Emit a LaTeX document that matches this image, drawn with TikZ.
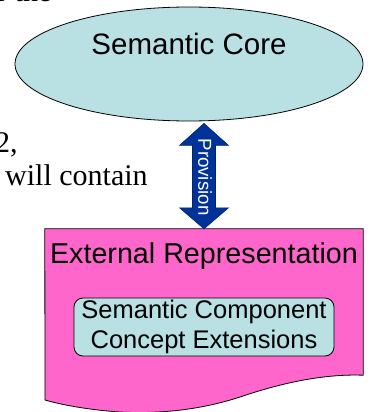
\documentclass[tikz,border=0pt]{standalone}
\usepackage{fontspec}
\setmainfont{Liberation Sans}
\newfontfamily\serifface{Liberation Serif}
\usetikzlibrary{shapes.geometric,calc}
\definecolor{corefill}{HTML}{B9E0E3}
\definecolor{pinkfill}{HTML}{FF66CC}
\definecolor{arrowblue}{HTML}{003399}
\tikzset{
  outline/.style={draw=black, line width=0.8pt},
  bodytext/.style={font=\serifface\fontsize{30}{32}\selectfont, inner sep=0pt},
}
\begin{document}
\begin{tikzpicture}[x=1pt,y=-1pt]
\useasboundingbox (0,0) rectangle (383,412);
\clip (0,0) rectangle (383,412);

% running text fragments at the left
\node[bodytext, anchor=base west] (frag) at (-3,1.5) {r the};
\node[bodytext, anchor=base west] (two) at (-5,152) {2,};
\node[bodytext, anchor=base west] (contain) at (5,185) {will contain};

% Semantic Core ellipse
\node[ellipse, outline, fill=corefill, minimum width=348pt, minimum height=114pt, inner sep=0pt] (core) at (189,64) {};
\node[font=\fontsize{29.5}{30}\selectfont] (coretext) at (189,44) {Semantic Core};

% External Representation document shape
\node[inner sep=0pt, minimum width=318pt, minimum height=146pt] (ext) at (204,302) {};
\draw[outline, fill=pinkfill] (ext.north west) -- (ext.north east) -- (ext.south east)
  .. controls (330,374) and (290,380) .. (240,397)
  .. controls (200,410) and (160,414) .. (120,412)
  .. controls (90,410) and (62,405) .. (45,400) -- cycle;
\node[font=\fontsize{28.7}{30}\selectfont, anchor=base] (exttext) at (204,263) {External Representation};

% inner rounded box
\node[outline, fill=corefill, rounded corners=9pt, minimum width=260pt, minimum height=58pt,
      inner sep=0pt, align=center, font=\fontsize{25.5}{30}\selectfont] (comp) at (204,327)
  {Semantic Component\\Concept Extensions};

% Provision double arrow
\coordinate (atop) at (core.south -| ext.north);
\coordinate (abot) at (ext.north);
\draw[draw=arrowblue!70!black, line width=0.6pt, fill=arrowblue]
  ($(atop)+(0,2)$) -- ($(atop)+(24.5,24)$) -- ($(atop)+(11.5,24)$)
  -- ($(abot)+(11.5,-21)$) -- ($(abot)+(24.5,-21)$) -- (abot)
  -- ($(abot)+(-24.5,-21)$) -- ($(abot)+(-11.5,-21)$)
  -- ($(atop)+(-11.5,24)$) -- ($(atop)+(-24.5,24)$) -- cycle;
\node[rotate=-90, text=white, font=\fontsize{18.7}{20}\selectfont, inner sep=0pt] (prov) at (205,177) {Provision};
\end{tikzpicture}
\end{document}
